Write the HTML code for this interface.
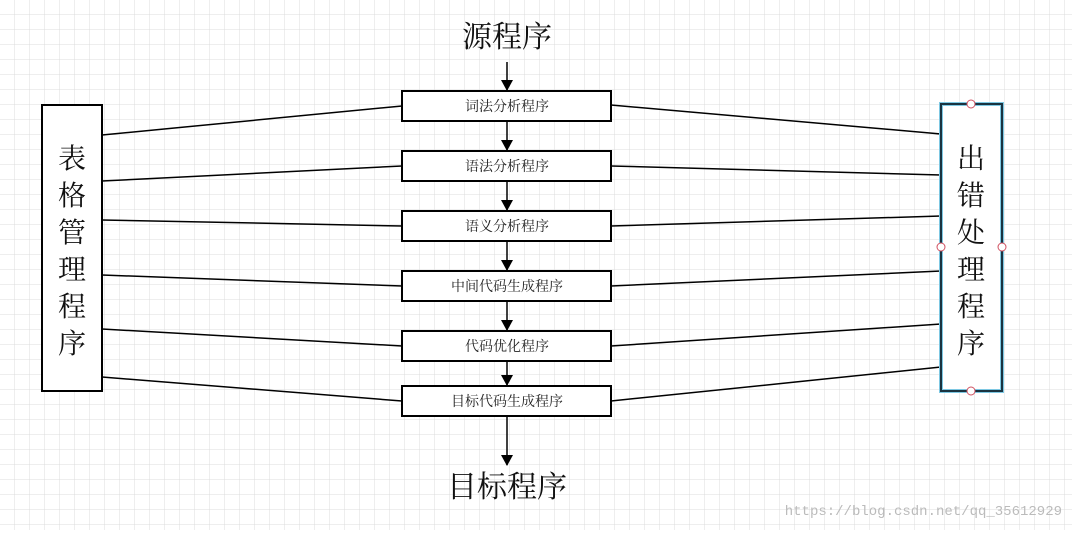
<!DOCTYPE html>
<html><head><meta charset="utf-8"><style>
body{margin:0;width:1072px;height:530px;overflow:hidden;background:#fff;}
</style></head><body>
<svg width="1072" height="530" xmlns="http://www.w3.org/2000/svg" font-family="'Liberation Serif','Noto Serif CJK SC',serif">
<defs>
<pattern id="g" width="15" height="15" patternUnits="userSpaceOnUse"><path d="M15 0V15H0" fill="none" stroke="#dcdcdc" stroke-width="1"/></pattern>
<marker id="a" markerWidth="12" markerHeight="12" refX="10" refY="6" orient="auto" markerUnits="userSpaceOnUse"><path d="M0 0L11 6L0 12Z" fill="#000"/></marker>
</defs>
<rect width="1072" height="530" fill="url(#g)"/>
<g stroke="#000" stroke-width="1.5">
<line x1="102" y1="135" x2="402" y2="106"/><line x1="102" y1="181" x2="402" y2="166"/>
<line x1="102" y1="220" x2="402" y2="226"/><line x1="102" y1="275" x2="402" y2="286"/>
<line x1="102" y1="329" x2="402" y2="346"/><line x1="102" y1="377" x2="402" y2="401"/>
<line x1="611" y1="105" x2="941" y2="134"/><line x1="611" y1="166" x2="941" y2="175"/>
<line x1="611" y1="226" x2="941" y2="216"/><line x1="611" y1="286" x2="941" y2="271"/>
<line x1="611" y1="346" x2="941" y2="324"/><line x1="611" y1="401" x2="941" y2="367"/>
<g marker-end="url(#a)">
<line x1="507" y1="62" x2="507" y2="90"/><line x1="507" y1="121" x2="507" y2="150"/>
<line x1="507" y1="181" x2="507" y2="210"/><line x1="507" y1="241" x2="507" y2="270"/>
<line x1="507" y1="301" x2="507" y2="330"/><line x1="507" y1="361" x2="507" y2="385"/>
<line x1="507" y1="416" x2="507" y2="465"/></g>
</g>
<g fill="#fff" stroke="#000" stroke-width="2">
<rect x="402" y="91" width="209" height="30"/><rect x="402" y="151" width="209" height="30"/>
<rect x="402" y="211" width="209" height="30"/><rect x="402" y="271" width="209" height="30"/>
<rect x="402" y="331" width="209" height="30"/><rect x="402" y="386" width="209" height="30"/>
<rect x="42" y="105" width="60" height="286"/>
</g>
<rect x="941" y="104" width="61" height="287" fill="#fff" stroke="#7ec8e3" stroke-width="4"/>
<rect x="941" y="104" width="61" height="287" fill="none" stroke="#1a3340" stroke-width="2"/>
<g fill="#fff" stroke="#d05060" stroke-width="1">
<circle cx="971" cy="104" r="4"/><circle cx="971" cy="391" r="4"/><circle cx="941" cy="247" r="4"/><circle cx="1002" cy="247" r="4"/></g>
<g font-size="14" text-anchor="middle" fill="#222">
<text x="507" y="111">词法分析程序</text><text x="507" y="171">语法分析程序</text>
<text x="507" y="231">语义分析程序</text><text x="507" y="291">中间代码生成程序</text>
<text x="507" y="351">代码优化程序</text><text x="507" y="406">目标代码生成程序</text>
</g>
<g font-size="30" text-anchor="middle" fill="#111">
<text x="507" y="47">源程序</text><text x="507" y="497">目标程序</text>
</g>
<g font-size="28" text-anchor="middle" fill="#111">
<text x="72" y="168">表</text><text x="72" y="205">格</text><text x="72" y="242">管</text><text x="72" y="279">理</text><text x="72" y="316">程</text><text x="72" y="353">序</text>
<text x="971" y="168">出</text><text x="971" y="205">错</text><text x="971" y="242">处</text><text x="971" y="279">理</text><text x="971" y="316">程</text><text x="971" y="353">序</text>
</g>
<text x="1062" y="515" text-anchor="end" font-family="'Liberation Mono',monospace" font-size="14" fill="#bbb">https://blog.csdn.net/qq_35612929</text>
</svg>
</body></html>
